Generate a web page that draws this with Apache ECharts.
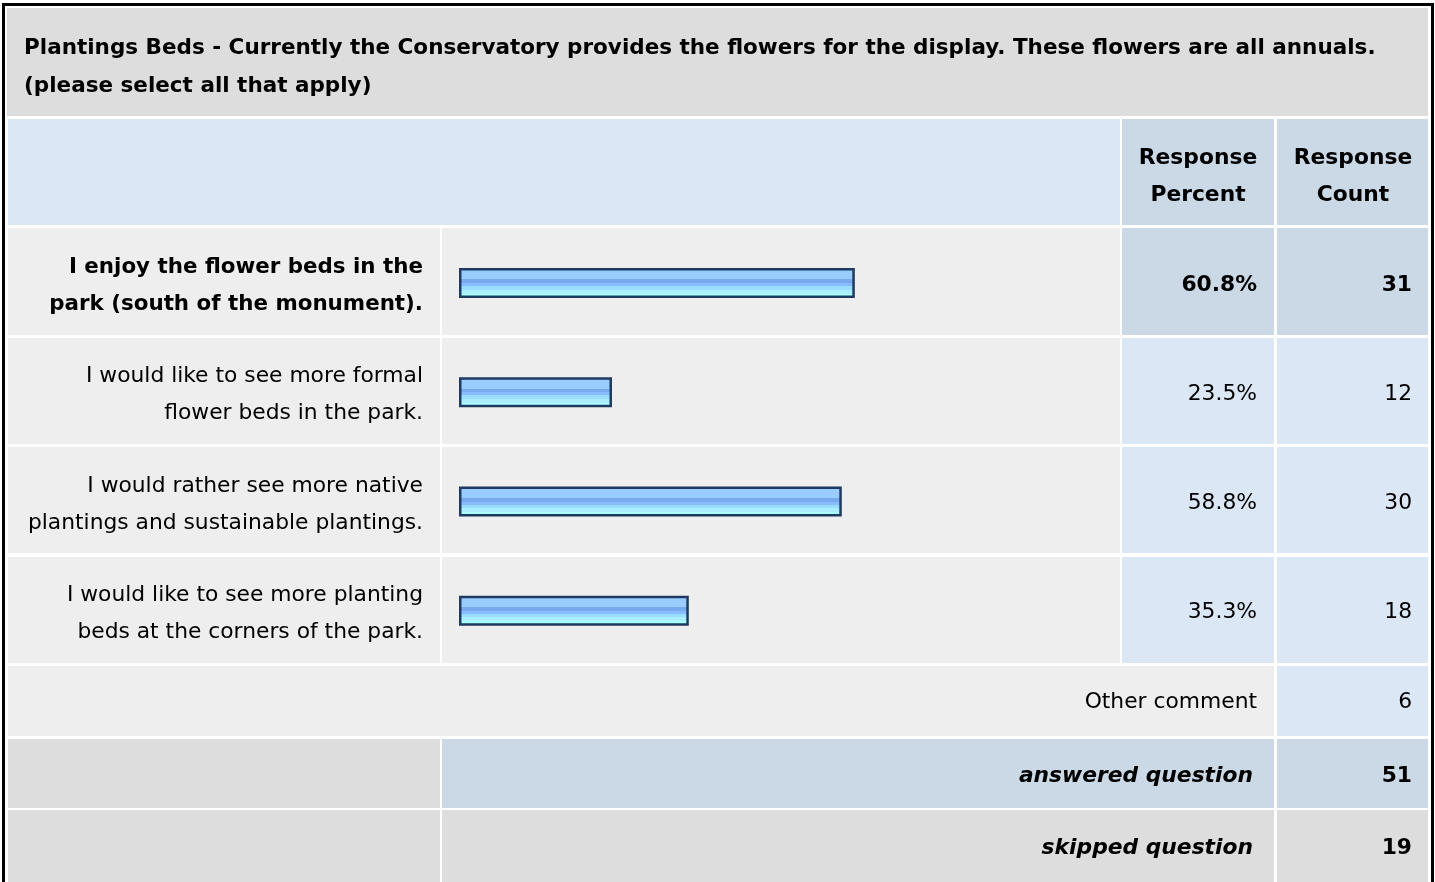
<!DOCTYPE html>
<html><head><meta charset="utf-8">
<script src="https://cdn.jsdelivr.net/npm/echarts@6/dist/echarts.min.js"></script>
<style>html,body{margin:0;padding:0;background:#fff;overflow:hidden}#c{width:1435px;height:882px;}</style>
</head><body><div id="c"></div>
<script>
// ---- data ----
const titleLines = ['Plantings Beds - Currently the Conservatory provides the flowers for the display. These flowers are all annuals.', '(please select all that apply)'];
const categories = [
  'I enjoy the flower beds in the\npark (south of the monument).',
  'I would like to see more formal\nflower beds in the park.',
  'I would rather see more native\nplantings and sustainable plantings.',
  'I would like to see more planting\nbeds at the corners of the park.'
];
const percents = [60.8, 23.5, 58.8, 35.3];
const counts = [31, 12, 30, 18];
const headerPercent = 'Response\nPercent';
const headerCount = 'Response\nCount';
const otherLabel = 'Other comment';
const otherCount = 6;
const answeredLabel = 'answered question';
const answeredCount = 51;
const skippedLabel = 'skipped question';
const skippedCount = 19;
const highlightIndex = 0;

// ---- style ----
const FF = 'DejaVu Sans';
const FS = 21.8;
const C_TITLE = '#dddddd', C_HEAD = '#dce7f5', C_HEAD2 = '#cbd8e6', C_ROW = '#eeeeee', C_CELL = '#dce7f5', C_CELL2 = '#cbd8e6';
const TXT = '#000';

const chart = echarts.init(document.getElementById('c'), null, {renderer: 'canvas'});

const barGradient = new echarts.graphic.LinearGradient(0, 0, 0, 1, [
  {offset: 0, color: '#99ccff'}, {offset: 0.38, color: '#99ccff'},
  {offset: 0.38, color: '#77aaee'}, {offset: 0.50, color: '#77aaee'},
  {offset: 0.50, color: '#88bbff'}, {offset: 0.60, color: '#88bbff'},
  {offset: 0.60, color: '#99ddff'}, {offset: 0.72, color: '#99ddff'},
  {offset: 0.72, color: '#aaeeff'}, {offset: 0.85, color: '#aaeeff'},
  {offset: 0.85, color: '#aaffff'}, {offset: 1, color: '#aaffff'}
]);

const GRID_TOP = 228.4, ROW_H = 109.25;

chart.setOption({
  animation: false,
  backgroundColor: '#ffffff',
  grid: {left: 459, top: GRID_TOP, width: 651, height: ROW_H * categories.length, containLabel: false},
  xAxis: {type: 'value', min: 0, max: 100, show: false},
  yAxis: {
    type: 'category', inverse: true, data: categories,
    axisLine: {show: false}, axisTick: {show: false}, splitLine: {show: false},
    axisLabel: {show: false}
  },
  series: [{
    type: 'bar', data: percents, barWidth: 30, z: 10,
    itemStyle: {color: barGradient, borderColor: '#1f3a60', borderWidth: 2.5},
    silent: true
  }]
});

function rect(x1, y1, x2, y2, fill) {
  return {type: 'rect', silent: true, z: -10, shape: {x: x1, y: y1, width: x2 - x1, height: y2 - y1}, style: {fill}};
}
function text(t, x, y, align, opts) {
  opts = opts || {};
  return {type: 'text', silent: true, z: 5, x, y, style: Object.assign({
    text: t, fill: TXT, fontFamily: FF, fontSize: FS, fontWeight: 'normal',
    textAlign: align, textVerticalAlign: 'middle', lineHeight: 37
  }, opts)};
}

const ys = categories.map((c, i) => chart.convertToPixel({yAxisIndex: 0}, i));
const els = [];
// outer border
els.push({type: 'rect', silent: true, z: 20, shape: {x: 3.5, y: 4.5, width: 1429, height: 1000}, style: {fill: null, stroke: '#000', lineWidth: 3}});
// title
els.push(rect(7, 8, 1428, 116, C_TITLE));
els.push(text(titleLines.join('\n'), 24, 67, 'left', {fontWeight: 'bold', fontSize: 21.5, lineHeight: 38}));
// header
els.push(rect(8, 119, 1120, 225, C_HEAD));
els.push(rect(1122, 119, 1274, 225, C_HEAD2));
els.push(rect(1277, 119, 1428, 225, C_HEAD2));
els.push(text(headerPercent, 1198, 177, 'center', {fontWeight: 'bold'}));
els.push(text(headerCount, 1353, 177, 'center', {fontWeight: 'bold'}));
// rows
const rowBounds = [[228, 335], [338, 444], [447, 553], [557, 663]];
rowBounds.forEach((b, i) => {
  const hl = i === highlightIndex;
  els.push(rect(8, b[0], 440, b[1], C_ROW));
  els.push(rect(442, b[0], 1120, b[1], C_ROW));
  els.push(rect(1122, b[0], 1274, b[1], hl ? C_CELL2 : C_CELL));
  els.push(rect(1277, b[0], 1428, b[1], hl ? C_CELL2 : C_CELL));
  const w = hl ? 'bold' : 'normal';
  els.push(text(categories[i], 423, ys[i] + 3, 'right', hl ? {fontWeight: 'bold', fontSize: 21.4} : {}));
  els.push(text(percents[i].toFixed(1) + '%', 1257, ys[i] + 2, 'right', {fontWeight: w}));
  els.push(text(String(counts[i]), 1412, ys[i] + 2, 'right', {fontWeight: w}));
});
// other
els.push(rect(8, 666, 1274, 736, C_ROW));
els.push(rect(1277, 666, 1428, 736, C_CELL));
els.push(text(otherLabel, 1257, 702, 'right'));
els.push(text(String(otherCount), 1412, 702, 'right'));
// answered
els.push(rect(8, 739, 440, 808, C_TITLE));
els.push(rect(442, 739, 1274, 808, C_CELL2));
els.push(rect(1277, 739, 1428, 808, C_CELL2));
els.push(text(answeredLabel, 1253, 776, 'right', {fontWeight: 'bold', fontStyle: 'italic'}));
els.push(text(String(answeredCount), 1412, 776, 'right', {fontWeight: 'bold'}));
// skipped
els.push(rect(8, 810, 440, 882, C_TITLE));
els.push(rect(442, 810, 1274, 882, C_TITLE));
els.push(rect(1277, 810, 1428, 882, C_TITLE));
els.push(text(skippedLabel, 1253, 848, 'right', {fontWeight: 'bold', fontStyle: 'italic'}));
els.push(text(String(skippedCount), 1412, 848, 'right', {fontWeight: 'bold'}));

chart.setOption({graphic: {elements: els}});
</script>
</body></html>
